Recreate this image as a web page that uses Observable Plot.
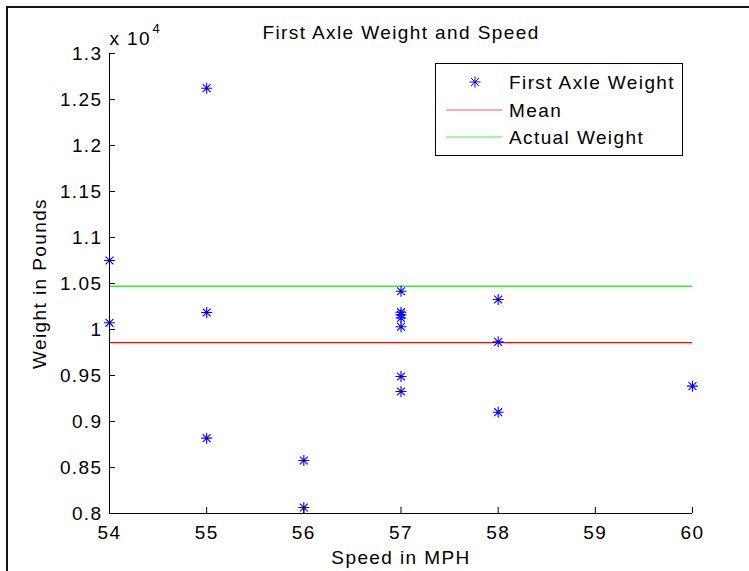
<!DOCTYPE html>
<html>
<head>
<meta charset="utf-8">
<script src="https://cdn.jsdelivr.net/npm/d3@7"></script>
<script src="https://cdn.jsdelivr.net/npm/@observablehq/plot@0.6"></script>
<style>
html, body { margin: 0; padding: 0; background: #fff; overflow: hidden; }
#wrap { position: relative; width: 749px; height: 571px; overflow: hidden; background: #fff; }
#frame { position: absolute; left: 6px; top: 6px; width: 900px; height: 900px;
  border-left: 2px solid #141414; border-top: 2px solid #141414; pointer-events: none; }
#legend { position: absolute; left: 0; top: 0; pointer-events: none; }
#legend text { font-family: "Liberation Sans", Arial, sans-serif; font-size: 19px; letter-spacing: 1.4px; fill: #000; }
</style>
</head>
<body>
<div id="wrap"></div>
<script>
// ---- data ----
const speedsMph = [54, 54, 55, 55, 55, 56, 56, 57, 57, 57, 57, 57, 57, 57, 58, 58, 58, 60];
const axleWeightsLb = [10750, 10073, 12623, 10185, 8819, 8576, 8065, 10416, 10188, 10160, 10125, 10030, 9489, 9326, 10326, 9866, 9101, 9384];
const meanWeightLb = 9857;
const actualWeightLb = 10470;
const xTicks = [54, 55, 56, 57, 58, 59, 60];
const yTicks = [8000, 8500, 9000, 9500, 10000, 10500, 11000, 11500, 12000, 12500, 13000];
const yTickLabels = ["0.8", "0.85", "0.9", "0.95", "1", "1.05", "1.1", "1.15", "1.2", "1.25", "1.3"];
const legendLabels = ["First Axle Weight", "Mean", "Actual Weight"];
const titleText = "First Axle Weight and Speed";
const xLabel = "Speed in MPH";
const yLabel = "Weight in Pounds";

const points = speedsMph.map((s, i) => ({speed: s, weight: axleWeightsLb[i]}));

// MATLAB-style 8-armed asterisk marker
const star8 = {
  draw(ctx, size) {
    const r = Math.sqrt(size / Math.PI);
    const d = r * 0.72;
    ctx.moveTo(-r, 0); ctx.lineTo(r, 0);
    ctx.moveTo(0, -r); ctx.lineTo(0, r);
    ctx.moveTo(-d, -d); ctx.lineTo(d, d);
    ctx.moveTo(-d, d); ctx.lineTo(d, -d);
  }
};

const chart = Plot.plot({
  width: 749,
  height: 571,
  marginLeft: 109,
  marginRight: 57,
  marginTop: 53,
  marginBottom: 58,
  style: "font-family: 'Liberation Sans', Arial, sans-serif; font-size: 19px; letter-spacing: 1.4px; color: #000; background: transparent; overflow: visible;",
  x: {domain: [54, 60]},
  y: {domain: [8000, 13000]},
  marks: [
    Plot.ruleY([meanWeightLb], {stroke: "#ff0000", strokeWidth: 1.2}),
    Plot.ruleY([actualWeightLb], {stroke: "#33ee33", strokeWidth: 1.5}),
    Plot.dot(points, {x: "speed", y: "weight", symbol: star8, r: 5.5, stroke: "#0000ff", fill: "none", strokeWidth: 1.1}),
    Plot.ruleX([54], {stroke: "#000", strokeWidth: 1}),
    Plot.ruleY([8000], {stroke: "#000", strokeWidth: 1}),
    Plot.axisY({
      ticks: yTicks,
      tickFormat: d => yTickLabels[yTicks.indexOf(d)],
      tickSize: -6, tickPadding: 13,
      label: null,
      stroke: "#000"
    }),
    Plot.axisX({
      ticks: xTicks,
      tickFormat: d => String(d),
      tickSize: -6, tickPadding: 18,
      label: null,
      stroke: "#000"
    }),
    Plot.text([xLabel], {frameAnchor: "bottom", dy: 44, lineAnchor: "middle", text: d => d}),
    Plot.text([yLabel], {frameAnchor: "left", dx: -70, rotate: -90, textAnchor: "middle", lineAnchor: "middle", text: d => d}),
    Plot.text([titleText], {frameAnchor: "top", dy: -21, lineAnchor: "middle", text: d => d}),
    Plot.text(["x 10"], {frameAnchor: "top-left", textAnchor: "start", dy: -15, lineAnchor: "middle", text: d => d}),
    Plot.text(["4"], {frameAnchor: "top-left", textAnchor: "start", dx: 43, dy: -25, lineAnchor: "middle", fontSize: 13, text: d => d})
  ]
});

const wrap = document.getElementById("wrap");
wrap.appendChild(chart);

const frame = document.createElement("div");
frame.id = "frame";
wrap.appendChild(frame);

// legend overlay
const leg = d3.select(wrap).append("svg").attr("id", "legend").attr("width", 749).attr("height", 571);
leg.append("rect").attr("x", 435.5).attr("y", 63.5).attr("width", 247).attr("height", 92)
  .attr("fill", "#fff").attr("stroke", "#000").attr("stroke-width", 1);
const rowsY = [82, 110, 137];
leg.append("path").attr("d", d3.symbol(star8, Math.PI * 5.5 * 5.5)())
  .attr("transform", `translate(475,${rowsY[0]})`).attr("stroke", "#0000ff").attr("fill", "none");
leg.append("line").attr("x1", 446).attr("x2", 502).attr("y1", rowsY[1]).attr("y2", rowsY[1])
  .attr("stroke", "#ff5555").attr("stroke-width", 1.2);
leg.append("line").attr("x1", 446).attr("x2", 502).attr("y1", rowsY[2]).attr("y2", rowsY[2])
  .attr("stroke", "#44ee44").attr("stroke-width", 1.2);
legendLabels.forEach((t, i) => {
  leg.append("text").attr("x", 509).attr("y", rowsY[i] + 6.8).text(t);
});
</script>
</body>
</html>
